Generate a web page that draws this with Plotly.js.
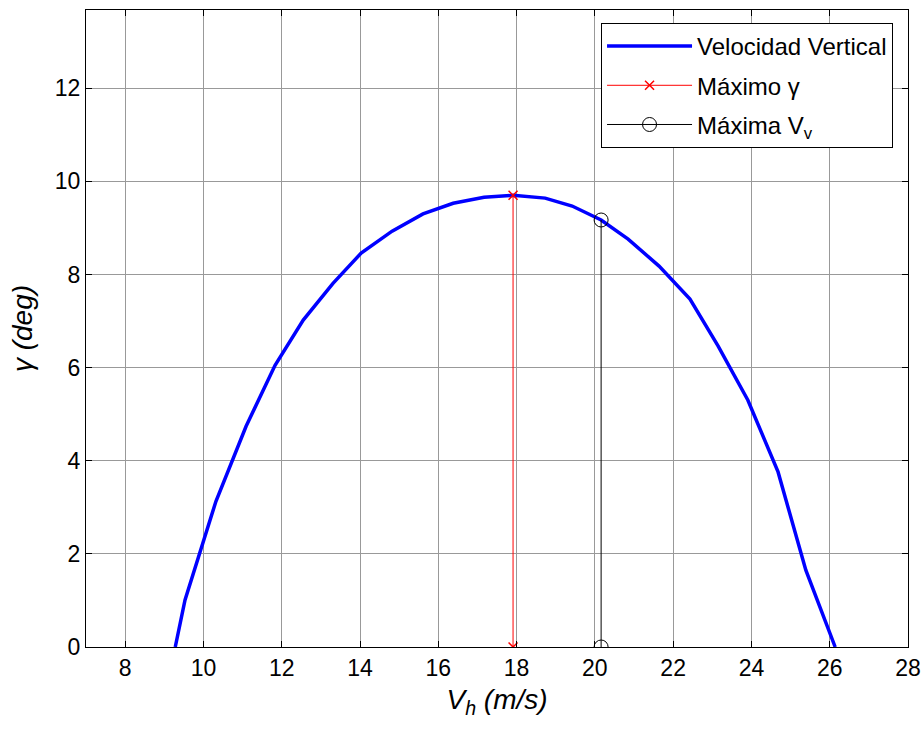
<!DOCTYPE html>
<html><head><meta charset="utf-8">
<script src="https://cdn.plot.ly/plotly-3.0.1.min.js"></script>
<style>body{margin:0;background:#fff}#c{width:924px;height:731px}</style>
</head><body><div id="c"></div>
<script>
const vh = [9.28, 9.53, 10.32, 11.09, 11.83, 12.55, 13.31, 14.03, 14.82, 15.61, 16.38, 17.17, 17.91, 18.73, 19.42, 20.16, 20.85, 21.64, 22.43, 23.15, 23.91, 24.68, 25.39, 26.14];
const gamma = [0, 1.01, 3.13, 4.74, 6.05, 7.02, 7.81, 8.46, 8.93, 9.30, 9.53, 9.66, 9.70, 9.64, 9.47, 9.17, 8.76, 8.18, 7.47, 6.46, 5.30, 3.76, 1.65, 0];
const maxGammaX = [17.91, 17.91];
const maxGammaY = [0, 9.70];
const maxVvX = [20.16, 20.16];
const maxVvY = [0, 9.17];
const xTicks = [8, 10, 12, 14, 16, 18, 20, 22, 24, 26, 28];
const yTicks = [0, 2, 4, 6, 8, 10, 12];

const FONT = '"Liberation Sans", Arial, sans-serif';
const traces = [
  {x: vh, y: gamma, mode: 'lines', name: 'Velocidad Vertical', legendgroup: 'a', line: {color: '#0000ff', width: 3.5}},
  {x: maxGammaX, y: maxGammaY, mode: 'lines+markers', name: 'Máximo γ', legendgroup: 'b', line: {color: '#ff0000', width: 1}, marker: {symbol: 'x-thin-open', size: 9, color: '#ff0000', line: {color: '#ff0000', width: 1.5}}},
  {x: maxVvX, y: maxVvY, mode: 'lines+markers', name: 'Máxima V<sub>v</sub>', legendgroup: 'c', line: {color: '#000000', width: 1}, marker: {symbol: 'circle-open', size: 14, color: '#000000', line: {color: '#000000', width: 1}}}
];
const axCommon = {
  showline: true, linecolor: '#000', linewidth: 1, mirror: 'ticks', ticks: 'inside', ticklen: 6, tickcolor: '#000',
  showgrid: true, gridcolor: '#999999', gridwidth: 1, zeroline: false,
  tickfont: {family: FONT, size: 23, color: '#000'}
};
const layout = {
  width: 924, height: 731,
  margin: {l: 86, r: 16, t: 10, b: 84},
  paper_bgcolor: '#fff', plot_bgcolor: '#fff',
  showlegend: true,
  legend: {x: 0.9818, y: 0.9796, xanchor: 'right', yanchor: 'top', bgcolor: '#fff', bordercolor: '#000', borderwidth: 1,
    font: {family: FONT, size: 24, color: '#000'}, itemwidth: 85, tracegroupgap: 5},
  xaxis: Object.assign({}, axCommon, {range: [7, 28], tickvals: xTicks, ticktext: xTicks.map(String),
    title: {text: '<i>V<sub>h</sub> (m/s)</i>', font: {family: FONT, size: 28, color: '#000'}, standoff: 9}}),
  yaxis: Object.assign({}, axCommon, {range: [0, 13.68], tickvals: yTicks, ticktext: yTicks.map(String),
    title: {text: '<i>γ (deg)</i>', font: {family: FONT, size: 28, color: '#000'}, standoff: 14}})
};
Plotly.newPlot('c', traces, layout, {displayModeBar: false, staticPlot: true});
</script></body></html>
